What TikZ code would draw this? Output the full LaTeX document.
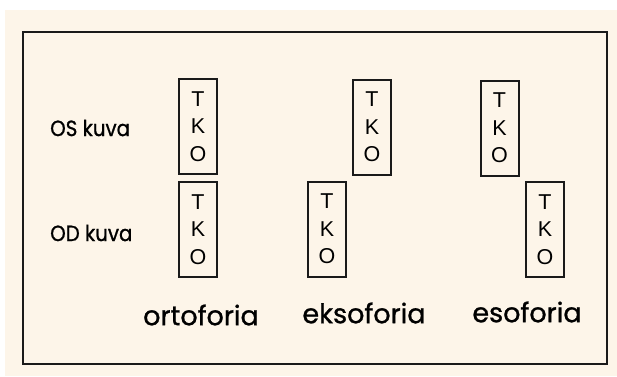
\documentclass[tikz,border=0pt]{standalone}
\usepackage{fontspec}
\setmainfont{Liberation Sans}
\newfontfamily\handfont[FakeBold=1]{Poppins}
\definecolor{paper}{HTML}{FDF5E9}
\definecolor{ink}{HTML}{1A1A1A}
\begin{document}
\begin{tikzpicture}[x=1pt,y=-1pt,
  tkobox/.style={draw=ink,line width=2pt,minimum width=38pt,minimum height=95pt,
    inner sep=0pt,align=center,font=\fontsize{21.5}{27.5}\selectfont},
  rowlabel/.style={anchor=west,inner sep=0pt,font=\handfont\fontsize{22}{22}\selectfont},
  caselabel/.style={inner sep=0pt,font=\handfont\fontsize{27}{27}\selectfont}]
  \useasboundingbox (0,0) rectangle (617,376);
  \fill[white] (0,0) rectangle (617,376);
  \fill[paper] (5,10) rectangle (617,376);
  \draw[ink,line width=2.5pt] (23,32) rectangle (607,364);

  % row labels
  \node[rowlabel] (os) at (50,128) {\scalebox{0.9}[1]{OS kuva}};
  \node[rowlabel] (od) at (50,233) {\scalebox{0.9}[1]{OD kuva}};

  % orthophoria: images aligned
  \node[tkobox] (orto-os) at (198,126.5) {T\\K\\O};
  \node[tkobox] (orto-od) at (198,229.5) {T\\K\\O};

  % exophoria: images shifted apart
  \node[tkobox] (ekso-os) at (372,127) {T\\K\\O};
  \node[tkobox] (ekso-od) at (327,229) {T\\K\\O};

  % esophoria: images crossed
  \node[tkobox] (eso-os) at (499.5,128) {T\\K\\O};
  \node[tkobox] (eso-od) at (545,229.5) {T\\K\\O};

  % case names
  \node[caselabel] (orto) at (201,315) {ortoforia};
  \node[caselabel] (ekso) at (364,313) {eksoforia};
  \node[caselabel] (eso) at (527,312) {esoforia};
\end{tikzpicture}
\end{document}
